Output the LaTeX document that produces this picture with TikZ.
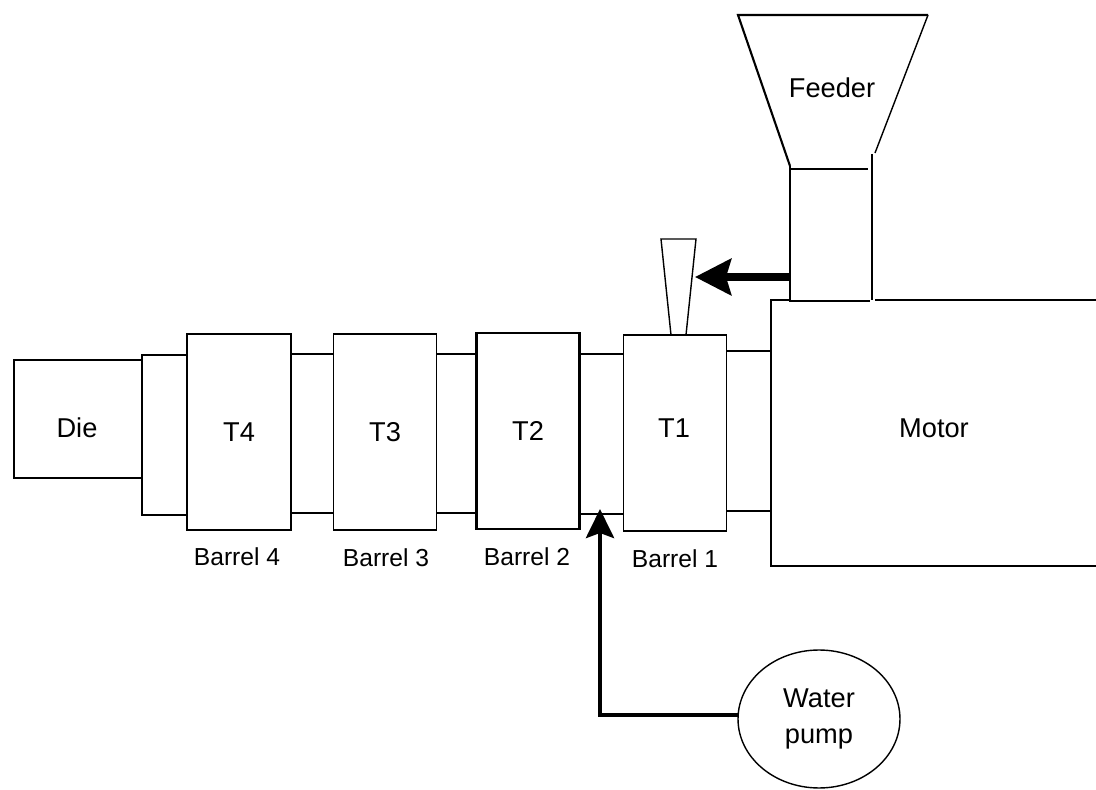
\documentclass[tikz,border=0pt]{standalone}
\usepackage{fontspec}
\setmainfont{Liberation Sans}
\usetikzlibrary{shapes.geometric, arrows.meta, positioning, calc}
\begin{document}
\begin{tikzpicture}[
    x=0.02cm, y=-0.02cm,
    line width=0.8pt,
    barrel/.style={draw, rectangle, minimum width=2.06cm, minimum height=3.92cm, inner sep=0pt},
    caption/.style={font=\fontsize{14}{16}\selectfont, inner sep=0pt},
    tag/.style={font=\fontsize{15.5}{21}\selectfont, inner sep=0pt},
    feed/.style={line width=4.4pt, -{Stealth[length=0.72cm, width=0.72cm, inset=0.1cm]}},
    water/.style={line width=2.6pt, -{Stealth[length=0.58cm, width=0.56cm, inset=0.1cm]}}
  ]
  \useasboundingbox (0,0) rectangle (1096,790);
  % Nodes
  \node[barrel] (t1) at (675,433) {};
  \node[tag] (t1label) at (674,428) {T1};
  \node[barrel, tag, line width=1.3pt] (t2) at (528,431) {T2};
  \node[barrel, tag] (t3) at (385,432) {T3};
  \node[barrel, tag, minimum width=2.08cm] (t4) at (239,432) {T4};
  \node[draw, rectangle, minimum width=2.56cm, minimum height=2.36cm] (die) at (78,419) {};
  \node[tag] (dielabel) at (77,428) {Die};
  \node[caption] (b1) at (675,559) {Barrel 1};
  \node[caption] (b2) at (527,557) {Barrel 2};
  \node[caption] (b3) at (386,558) {Barrel 3};
  \node[caption] (b4) at (237,557) {Barrel 4};
  \node[draw, ellipse, tag, align=center, minimum width=3.24cm, minimum height=2.76cm] (pump) at (819,719) {Water\\pump};
  \node[tag] (motor) at (934,428) {Motor};
  \node[tag] (feeder) at (832,88) {Feeder};
  \coordinate (outlet) at (600,509);
  \coordinate (vent) at (695,277);
  \coordinate (chute) at (790,277);
  \coordinate (corner) at (600,715);
  \coordinate (inlet) at (738,715);
  % Hopper and chute
  \draw[line width=1.2pt] (928,15) -- (738,15) -- (790,166);
  \draw (928,15) -- (875,153);
  \draw (790,166) -- (790,300);
  \draw (872,154) -- (872,300);
  \draw[line width=1.2pt] (790,169) -- (868,169);
  \draw[line width=1.6pt] (789,301) -- (870,301);
  % Motor housing
  \draw (1096,300) -- (875,300);
  \draw (790,300) -- (771,300) -- (771,566) -- (1096,566);
  % Vent
  \draw (661,239) -- (696,239) -- (686,335) -- (671,335) -- cycle;
  % Shafts
  \draw (t1.east |- 0,351) -- (771,351);
  \draw (t1.east |- 0,511) -- (771,511);
  \draw (t2.east |- 0,354) -- (t1.west |- 0,354);
  \draw (t2.east |- 0,514) -- (t1.west |- 0,514);
  \draw (t3.east |- 0,354) -- (t2.west |- 0,354);
  \draw (t3.east |- 0,513) -- (t2.west |- 0,513);
  \draw (t4.east |- 0,354) -- (t3.west |- 0,354);
  \draw (t4.east |- 0,513) -- (t3.west |- 0,513);
  \draw (t4.west |- 0,355) -- (142,355) -- (142,515) -- (t4.west |- 0,515);
  % Connections
  \draw[feed] (chute) -- (vent);
  \draw[water] (inlet) -- (corner) -- (outlet);
\end{tikzpicture}
\end{document}
